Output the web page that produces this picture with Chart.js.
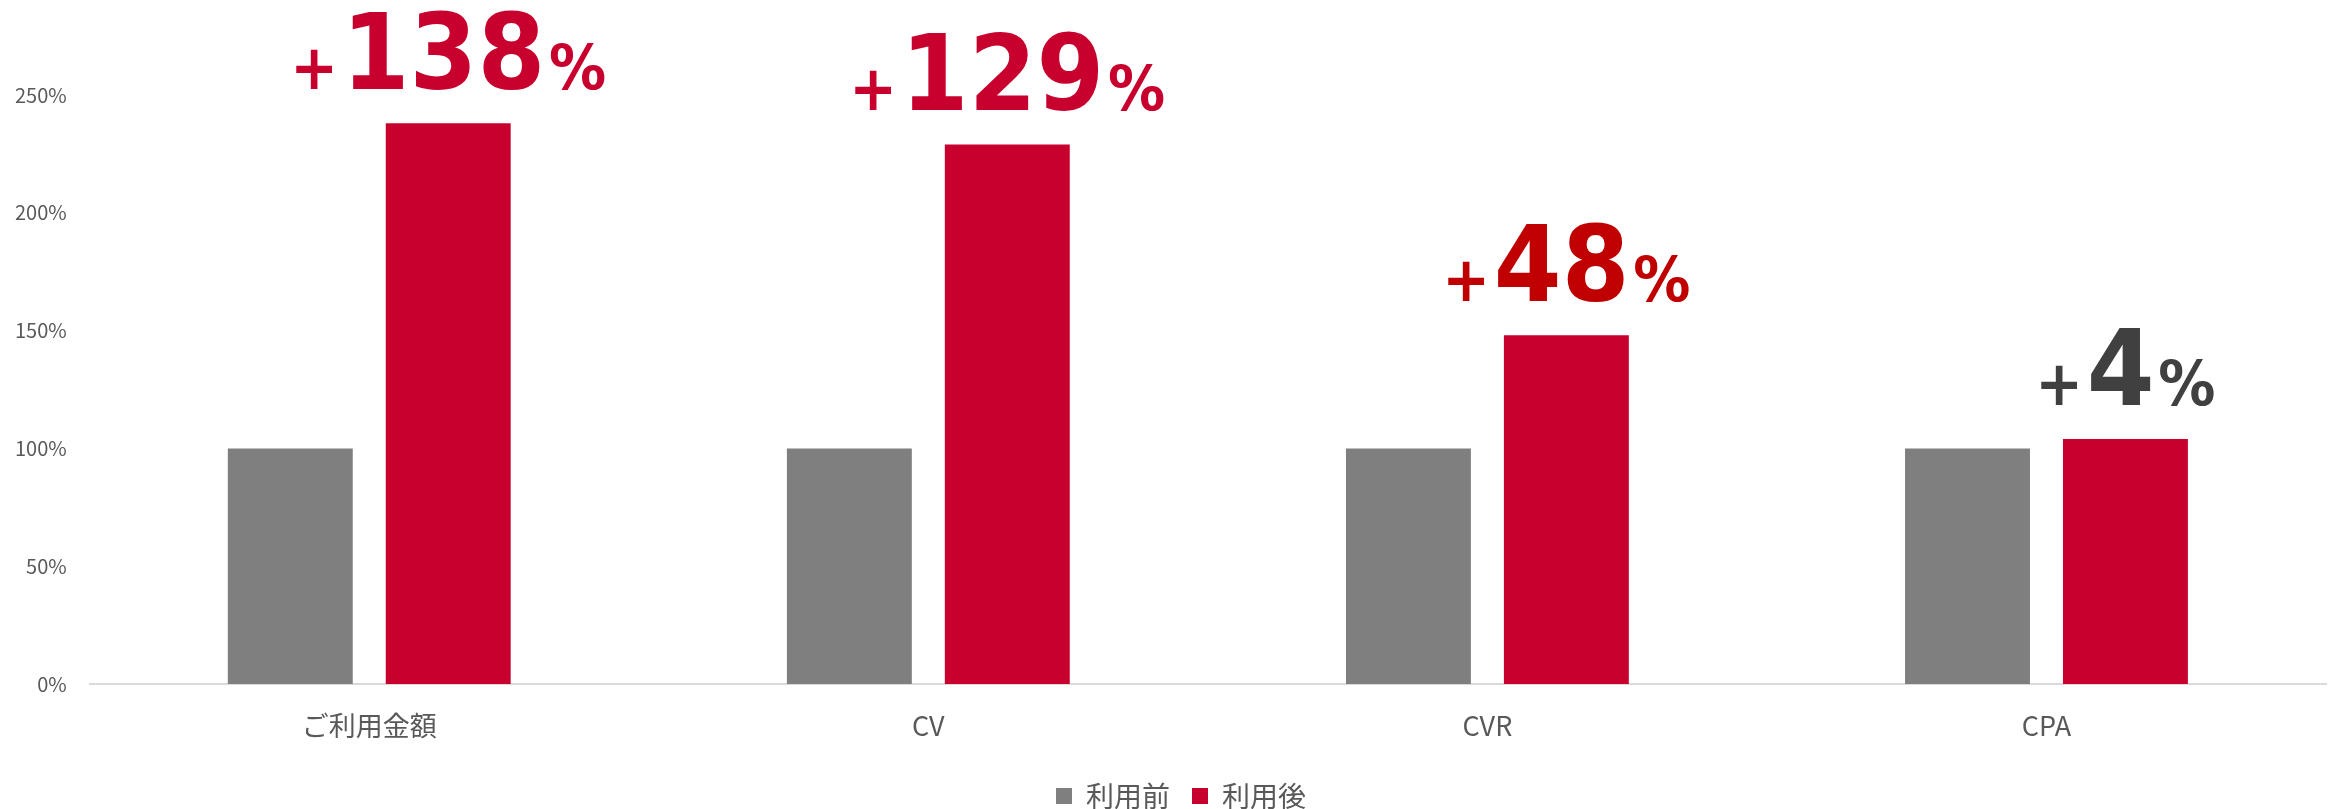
<!DOCTYPE html>
<html>
<head>
<meta charset="utf-8">
<script src="https://cdn.jsdelivr.net/npm/chart.js@4.4.0/dist/chart.umd.min.js"></script>
<style>
  html, body { margin: 0; padding: 0; background: #fff; }
  #wrap { width: 2333px; height: 809px; position: relative; }
</style>
</head>
<body>
<div id="wrap"><canvas id="liftChart"></canvas></div>
<script>
// chart values
const categories = ['ご利用金額', 'CV', 'CVR', 'CPA'];
const seriesNames = ['利用前', '利用後'];
const beforeValues = [100, 100, 100, 100];
const afterValues = [238, 229, 148, 104];
const yTicks = [0, 50, 100, 150, 200, 250];
const liftLabels = ['138', '129', '48', '4'];

// styles
const GRAY = '#7F7F7F';
const RED = '#C8002D';
const liftColors = [RED, RED, '#C00000', '#404040'];
const FONT = "'Noto Sans CJK JP', 'Noto Sans', sans-serif";

// draws the big "+NN%" callouts above the red bars
const liftPlugin = {
    id: 'liftLabels',
    afterLayout(chart) {
        // legend sits a little right of the canvas centre in the original
        chart.legend.left += 18;
        chart.legend.right += 18;
    },
    afterDatasetsDraw(chart) {
        const ctx = chart.ctx;
        const meta = chart.getDatasetMeta(1);
        meta.data.forEach((bar, i) => {
            const bigFont = "bold 106px 'DejaVu Sans', sans-serif";
            const smallFont = "bold 62px 'DejaVu Sans', sans-serif";
            ctx.save();
            ctx.translate(bar.x, bar.y - 34);
            ctx.scale(0.92, 1);
            ctx.fillStyle = liftColors[i];
            ctx.textBaseline = 'alphabetic';
            ctx.textAlign = 'left';
            ctx.font = smallFont;
            const wPlus = ctx.measureText('+').width;
            const wPct = ctx.measureText('%').width;
            ctx.font = bigFont;
            const wNum = ctx.measureText(liftLabels[i]).width;
            const gap = 4;
            let x = -(wPlus + gap + wNum + gap + wPct) / 2;
            ctx.font = smallFont;
            ctx.fillText('+', x, 0);
            x += wPlus + gap;
            ctx.font = bigFont;
            ctx.fillText(liftLabels[i], x, 0);
            x += wNum + gap;
            ctx.font = smallFont;
            ctx.fillText('%', x, 0);
            ctx.restore();
        });
    }
};

const ctx = document.getElementById('liftChart').getContext('2d');
new Chart(ctx, {
    type: 'bar',
    data: {
        labels: categories,
        datasets: [
            { label: seriesNames[0], data: beforeValues, backgroundColor: GRAY,
              categoryPercentage: 0.565, barPercentage: 0.791 },
            { label: seriesNames[1], data: afterValues, backgroundColor: RED,
              categoryPercentage: 0.565, barPercentage: 0.791 }
        ]
    },
    options: {
        responsive: true, maintainAspectRatio: false,
        animation: false,
        layout: { padding: { top: 95, right: 7, bottom: -11, left: 0 } },
        plugins: {
            legend: {
                position: 'bottom',
                labels: {
                    boxWidth: 16, boxHeight: 16, padding: 22,
                    color: '#595959',
                    font: { family: FONT, size: 28 }
                }
            },
            tooltip: { enabled: false }
        },
        scales: {
            x: {
                grid: { display: false },
                border: { display: true, color: '#D9D9D9', width: 2 },
                ticks: { color: '#595959', padding: 18, font: { family: FONT, size: 27 } },
                afterFit: (axis) => { axis.height = 76; }
            },
            y: {
                min: 0, max: 250,
                afterBuildTicks: (axis) => { axis.ticks = yTicks.map(v => ({ value: v })); },
                grid: { display: false },
                border: { display: false },
                ticks: {
                    color: '#595959', padding: 15,
                    font: { family: FONT, size: 20 },
                    callback: (v) => v + '%'
                }
            }
        }
    },
    plugins: [liftPlugin]
});
</script>
</body>
</html>
